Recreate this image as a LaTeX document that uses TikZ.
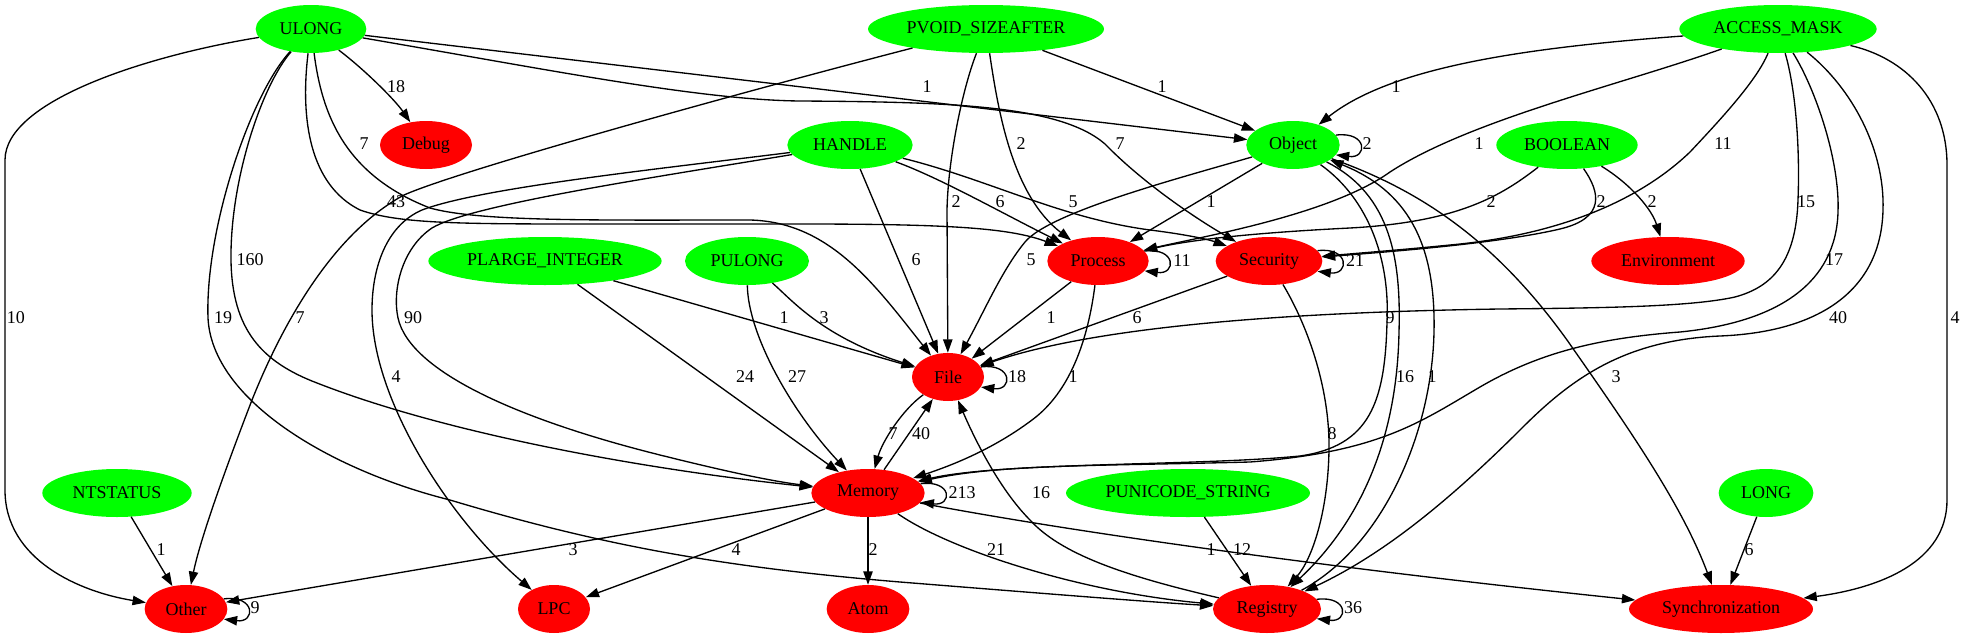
\documentclass[tikz,border=0pt]{standalone}
\usepackage{fontspec}
\setmainfont{Liberation Serif}
\usetikzlibrary{arrows.meta,shapes.geometric}
\definecolor{gn}{RGB}{0,255,0}
\definecolor{rd}{RGB}{255,0,0}
\begin{document}
\begin{tikzpicture}[x=0.75pt,y=-0.75pt,
  every node/.style={font=\fontsize{13.5}{16}\selectfont},
  gnode/.style={ellipse,fill=gn,inner sep=0pt,minimum height=36pt},
  rnode/.style={ellipse,fill=rd,inner sep=0pt,minimum height=36pt},
  e/.style={draw=black,line width=1pt,-{Triangle[length=10pt,width=7pt]}},
  lbl/.style={inner sep=0pt}]
\useasboundingbox (0,0) rectangle (1964,639);
% nodes
\node[gnode,minimum width=83pt] (ULONG) at (311,29) {ULONG};
\node[gnode,minimum width=177pt] (PVOID) at (986,29) {PVOID\_SIZEAFTER};
\node[gnode,minimum width=148pt] (AM) at (1778,29) {ACCESS\_MASK};
\node[rnode,minimum width=69pt] (Debug) at (426,145) {Debug};
\node[gnode,minimum width=94pt] (HANDLE) at (850,145) {HANDLE};
\node[gnode,minimum width=70pt] (Object) at (1293,145) {Object};
\node[gnode,minimum width=106pt] (BOOLEAN) at (1567,145) {BOOLEAN};
\node[gnode,minimum width=175pt] (PLARGE) at (545,261) {PLARGE\_INTEGER};
\node[gnode,minimum width=93pt] (PULONG) at (747,261) {PULONG};
\node[rnode,minimum width=76pt] (Process) at (1098,261) {Process};
\node[rnode,minimum width=80pt] (Security) at (1269,261) {Security};
\node[rnode,minimum width=115pt] (Environment) at (1668,261) {Environment};
\node[rnode,minimum width=54pt] (File) at (948,377) {File};
\node[gnode,minimum width=112pt] (NTSTATUS) at (117,493) {NTSTATUS};
\node[rnode,minimum width=85pt] (Memory) at (868,493) {Memory};
\node[gnode,minimum width=183pt] (PUNICODE) at (1188,493) {PUNICODE\_STRING};
\node[gnode,minimum width=71pt] (LONG) at (1766,493) {LONG};
\node[rnode,minimum width=62pt] (Other) at (186,609) {Other};
\node[rnode,minimum width=54pt] (LPC) at (554,609) {LPC};
\node[rnode,minimum width=62pt] (Atom) at (868,609) {Atom};
\node[rnode,minimum width=81pt] (Registry) at (1267,609) {Registry};
\node[rnode,minimum width=138pt] (Sync) at (1721,609) {Synchronization};
% ULONG edges
\draw[e] (ULONG) .. controls (150,55) and (5,100) .. (5,160) -- (5,490) .. controls (5,560) and (80,592) .. (Other);
\draw[e] (ULONG) .. controls (365,70) and (395,100) .. (Debug);
\draw[e] (ULONG) -- (Object);
\draw[e] (ULONG) .. controls (550,70) and (700,100) .. (800,101) .. controls (950,102) and (1060,105) .. (1105,144) .. controls (1140,180) and (1190,215) .. (Security);
\draw[e] (ULONG) .. controls (322,115) and (345,175) .. (430,208) .. controls (480,222) and (600,220) .. (750,220) .. controls (830,222) and (875,285) .. (File);
\draw[e] (ULONG) .. controls (300,120) and (310,185) .. (360,210) .. controls (400,224) and (460,224) .. (600,224) -- (800,224) .. controls (950,224) and (1010,228) .. (Process);
\draw[e] (ULONG) .. controls (262,85) and (230,180) .. (231,260) .. controls (232,330) and (262,362) .. (317,383) .. controls (450,435) and (650,470) .. (Memory);
\draw[e] (ULONG) .. controls (250,95) and (205,230) .. (208,318) .. controls (212,400) and (330,470) .. (450,500) .. controls (600,545) and (720,567) .. (900,582) .. controls (1050,594) and (1150,602) .. (Registry);
% PVOID edges
\draw[e] (PVOID) .. controls (750,90) and (460,170) .. (404,195) .. controls (330,235) and (280,330) .. (252,400) .. controls (225,470) and (200,540) .. (Other);
\draw[e] (PVOID) .. controls (962,90) and (948,160) .. (947,210) -- (File);
\draw[e] (PVOID) .. controls (998,110) and (1012,195) .. (Process);
\draw[e] (PVOID) -- (Object);
% ACCESS_MASK edges
\draw[e] (AM) .. controls (1520,48) and (1390,68) .. (Object);
\draw[e] (AM) .. controls (1620,85) and (1470,120) .. (1390,172) .. controls (1330,215) and (1200,237) .. (Process);
\draw[e] (AM) .. controls (1757,80) and (1722,118) .. (1690,152) .. controls (1640,200) and (1560,235) .. (1450,245) .. controls (1400,250) and (1360,253) .. (Security);
\draw[e] (AM) .. controls (1796,90) and (1800,150) .. (1798,200) .. controls (1796,262) and (1772,287) .. (1735,297) .. controls (1690,307) and (1600,308) .. (1500,309) .. controls (1300,312) and (1100,325) .. (File);
\draw[e] (AM) .. controls (1815,88) and (1840,160) .. (1838,212) .. controls (1836,282) and (1780,322) .. (1680,332) .. controls (1600,338) and (1540,352) .. (1480,387) .. controls (1420,422) and (1380,452) .. (1250,462) .. controls (1100,466) and (1000,464) .. (Memory);
\draw[e] (AM) .. controls (1852,88) and (1885,150) .. (1883,210) .. controls (1881,290) and (1820,332) .. (1720,336) .. controls (1625,340) and (1572,378) .. (1522,428) .. controls (1445,505) and (1380,556) .. (Registry);
\draw[e] (AM) .. controls (1905,58) and (1947,100) .. (1947,165) -- (1947,500) .. controls (1947,562) and (1880,588) .. (Sync);
% HANDLE edges
\draw[e] (HANDLE) .. controls (650,170) and (480,188) .. (422,210) .. controls (385,226) and (372,270) .. (372,310) .. controls (372,400) and (450,520) .. (LPC);
\draw[e] (HANDLE) .. controls (650,178) and (470,205) .. (432,228) .. controls (402,248) and (392,290) .. (398,318) .. controls (410,372) and (520,420) .. (660,455) .. controls (720,470) and (770,481) .. (Memory);
\draw[e] (HANDLE) -- (File);
\draw[e] (HANDLE) .. controls (940,178) and (1000,212) .. (Process);
\draw[e] (HANDLE) .. controls (990,180) and (1060,218) .. (1150,230) .. controls (1190,235) and (1210,240) .. (Security);
% Object edges
\draw[e] (Object.13) .. controls +(32,-4) and +(32,4) .. (Object.-13);
\draw[e] (Object) -- (Process);
\draw[e] (Object) .. controls (1180,178) and (1050,212) .. (1025,242) .. controls (1002,270) and (985,310) .. (File);
\draw[e] (Object) .. controls (1370,200) and (1390,262) .. (1387,322) .. controls (1385,402) and (1370,446) .. (1300,456) .. controls (1200,466) and (1000,462) .. (Memory);
\draw[e] (Object) .. controls (1392,195) and (1401,262) .. (1399,332) .. controls (1397,440) and (1360,522) .. (Registry);
\draw[e] (Registry) .. controls (1385,545) and (1432,430) .. (1434,332) .. controls (1436,240) and (1405,190) .. (Object);
\draw[e] (Object) .. controls (1420,190) and (1495,240) .. (1567,340) .. controls (1630,430) and (1682,505) .. (Sync);
% BOOLEAN edges
\draw[e] (BOOLEAN) .. controls (1502,195) and (1460,222) .. (1350,228) .. controls (1250,233) and (1190,240) .. (Process);
\draw[e] (BOOLEAN) .. controls (1600,192) and (1606,218) .. (1560,229) .. controls (1500,243) and (1400,251) .. (Security);
\draw[e] (BOOLEAN) .. controls (1632,185) and (1652,210) .. (Environment);
% PLARGE, PULONG
\draw[e] (PLARGE) -- (File);
\draw[e] (PLARGE) -- (Memory);
\draw[e] (PULONG) .. controls (792,300) and (822,337) .. (File);
\draw[e] (PULONG) .. controls (748,335) and (792,412) .. (Memory);
% Process, Security
\draw[e] (Process.12) .. controls +(32,-4) and +(32,4) .. (Process.-12);
\draw[e] (Process) -- (File);
\draw[e] (Process) .. controls (1088,340) and (1070,392) .. (1032,420) .. controls (992,450) and (950,466) .. (Memory);
\draw[e] (Security.12) .. controls +(32,-4) and +(32,4) .. (Security.-12);
\draw[e] (Security) -- (File);
\draw[e] (Security) .. controls (1310,330) and (1330,392) .. (1329,450) .. controls (1328,512) and (1312,560) .. (Registry);
% File, Memory
\draw[e] (File.17) .. controls +(32,-4) and +(32,4) .. (File.-17);
\draw[e] (File) .. controls (902,410) and (882,442) .. (Memory);
\draw[e] (Memory) -- (File);
\draw[e] (Registry) .. controls (1120,575) and (1060,553) .. (1030,520) .. controls (1000,490) and (975,440) .. (File);
\draw[e] (Memory.10) .. controls +(32,-4) and +(32,4) .. (Memory.-10);
\draw[e] (Memory) -- (Other);
\draw[e] (Memory) -- (LPC);
\draw[e] (Memory) -- (Atom);
\draw[e] (Memory) .. controls (950,550) and (1080,592) .. (Registry);
\draw[e] (Memory) .. controls (1050,528) and (1300,565) .. (Sync);
% bottom
\draw[e] (NTSTATUS) -- (Other);
\draw[e] (PUNICODE) -- (Registry);
\draw[e] (LONG) -- (Sync);
\draw[e] (Other.15) .. controls +(32,-4) and +(32,4) .. (Other.-15);
\draw[e] (Registry.11) .. controls +(32,-4) and +(32,4) .. (Registry.-11);
% labels
\node[lbl] (l1) at (16,318) {10};
\node[lbl] (l2) at (396,87) {18};
\node[lbl] (l3) at (927,87) {1};
\node[lbl] (l4) at (1120,144) {7};
\node[lbl] (l5) at (364,144) {7};
\node[lbl] (l6) at (396,202) {43};
\node[lbl] (l7) at (250,260) {160};
\node[lbl] (l8) at (223,318) {19};
\node[lbl] (l9) at (300,318) {7};
\node[lbl] (l10) at (956,202) {2};
\node[lbl] (l11) at (1021,144) {2};
\node[lbl] (l12) at (1162,87) {1};
\node[lbl] (l13) at (1396,87) {1};
\node[lbl] (l14) at (1479,144) {1};
\node[lbl] (l15) at (1723,144) {11};
\node[lbl] (l16) at (1806,202) {15};
\node[lbl] (l17) at (1834,260) {17};
\node[lbl] (l18) at (1838,318) {40};
\node[lbl] (l19) at (1955,318) {4};
\node[lbl] (l20) at (396,377) {4};
\node[lbl] (l21) at (413,318) {90};
\node[lbl] (l22) at (916,260) {6};
\node[lbl] (l23) at (1000,202) {6};
\node[lbl] (l24) at (1073,202) {5};
\node[lbl] (l25) at (1367,144) {2};
\node[lbl] (l26) at (1211,202) {1};
\node[lbl] (l27) at (1031,260) {5};
\node[lbl] (l28) at (1390,318) {9};
\node[lbl] (l29) at (1405,377) {16};
\node[lbl] (l30) at (1432,377) {1};
\node[lbl] (l31) at (1616,377) {3};
\node[lbl] (l32) at (1491,202) {2};
\node[lbl] (l33) at (1601,202) {2};
\node[lbl] (l34) at (1652,202) {2};
\node[lbl] (l35) at (784,318) {1};
\node[lbl] (l36) at (745,377) {24};
\node[lbl] (l37) at (824,318) {3};
\node[lbl] (l38) at (797,377) {27};
\node[lbl] (l39) at (1182,261) {11};
\node[lbl] (l40) at (1051,318) {1};
\node[lbl] (l41) at (1073,377) {1};
\node[lbl] (l42) at (1355,261) {21};
\node[lbl] (l43) at (1137,318) {6};
\node[lbl] (l44) at (1332,434) {8};
\node[lbl] (l45) at (1017,377) {18};
\node[lbl] (l46) at (893,434) {7};
\node[lbl] (l47) at (921,434) {40};
\node[lbl] (l48) at (1041,493) {16};
\node[lbl] (l49) at (962,493) {213};
\node[lbl] (l50) at (573,550) {3};
\node[lbl] (l51) at (736,550) {4};
\node[lbl] (l52) at (873,550) {2};
\node[lbl] (l53) at (996,550) {21};
\node[lbl] (l54) at (1211,550) {1};
\node[lbl] (l55) at (161,550) {1};
\node[lbl] (l56) at (1242,550) {12};
\node[lbl] (l57) at (1749,550) {6};
\node[lbl] (l58) at (255,608) {9};
\node[lbl] (l59) at (1353,608) {36};
\end{tikzpicture}
\end{document}
